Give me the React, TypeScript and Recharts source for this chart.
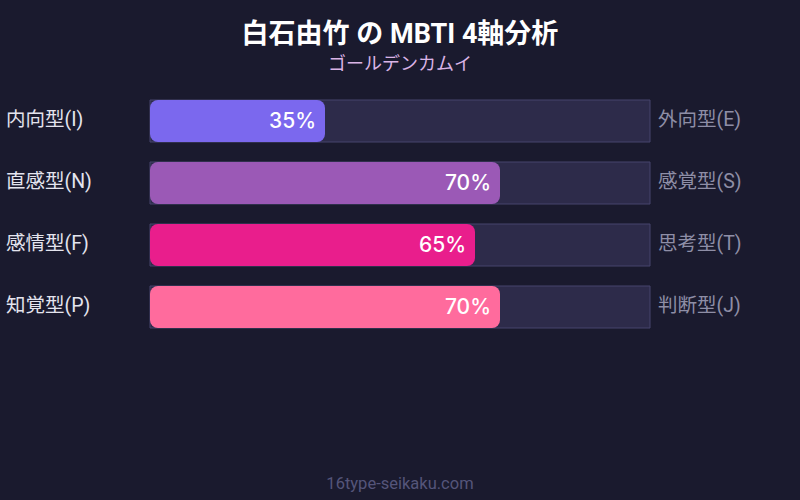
import React from "react";
import { BarChart, Bar, XAxis, YAxis, Cell, LabelList } from "recharts";

const leftLabels = ["内向型(I)", "直感型(N)", "感情型(F)", "知覚型(P)"];
const rightLabels = ["外向型(E)", "感覚型(S)", "思考型(T)", "判断型(J)"];
const values = [35, 70, 65, 70];
const colors = ["#7b68ee", "#9b59b6", "#e91e8c", "#ff6b9d"];

const data = leftLabels.map((l, i) => ({ left: l, right: rightLabels[i], value: values[i] }));

const FONT = "Roboto, 'Noto Sans CJK JP', sans-serif";
const NUM_FONT = "Inter, 'Noto Sans CJK JP', sans-serif";

const LeftTick = (props: any) => {
  const { y, payload } = props;
  return (
    <text x={6} y={y} dy={5} textAnchor="start" fill="#e4e4ee" fontSize={19.5} fontFamily={FONT}>
      {payload.value}
    </text>
  );
};

const RightTick = (props: any) => {
  const { y, payload } = props;
  return (
    <text x={658} y={y} dy={5} textAnchor="start" fill="#8e8ea6" fontSize={19.5} fontFamily={FONT}>
      {payload.value}
    </text>
  );
};

const ValueLabel = (props: any) => {
  const { x, y, width, height, value } = props;
  return (
    <text
      x={x + width - 9}
      y={y + height / 2}
      dy={7}
      textAnchor="end"
      fill="#ffffff"
      fontSize={21}
      fontWeight={500}
      fontFamily={NUM_FONT}
    >
      {value}%
    </text>
  );
};

export default function App() {
  return (
    <div
      style={{
        position: "absolute",
        left: 0,
        top: 0,
        width: 800,
        height: 500,
        background: "#1a1a2e",
        fontFamily: FONT,
        overflow: "hidden",
      }}
    >
      <div
        style={{
          position: "absolute",
          top: 17,
          width: 800,
          textAlign: "center",
          color: "#ffffff",
          fontSize: 27,
          fontWeight: 700,
          lineHeight: "34px",
        }}
      >
        白石由竹 の MBTI 4軸分析
      </div>
      <div
        style={{
          position: "absolute",
          top: 52,
          width: 800,
          textAlign: "center",
          color: "#dab4e6",
          fontSize: 18,
          lineHeight: "24px",
        }}
      >
        ゴールデンカムイ
      </div>
      <div style={{ position: "absolute", left: 0, top: 0 }}>
        <BarChart
          width={800}
          height={500}
          data={data}
          layout="vertical"
          margin={{ top: 90, right: 0, bottom: 162, left: 0 }}
          barSize={42}
        >
          <XAxis type="number" domain={[0, 100]} hide />
          <YAxis
            yAxisId="l"
            type="category"
            dataKey="left"
            orientation="left"
            width={150}
            axisLine={false}
            tickLine={false}
            tick={<LeftTick />}
          />
          <YAxis
            yAxisId="r"
            type="category"
            dataKey="right"
            orientation="right"
            width={150}
            axisLine={false}
            tickLine={false}
            tick={<RightTick />}
          />
          <Bar
            yAxisId="l"
            dataKey="value"
            radius={8}
            isAnimationActive={false}
            background={{ fill: "#2d2b4a", stroke: "#46446c", strokeWidth: 1 }}
          >
            {data.map((d, i) => (
              <Cell key={i} fill={colors[i]} />
            ))}
            <LabelList dataKey="value" content={<ValueLabel />} />
          </Bar>
        </BarChart>
      </div>
      <div
        style={{
          position: "absolute",
          top: 474,
          width: 800,
          textAlign: "center",
          color: "#55557a",
          fontSize: 16.5,
          lineHeight: "20px",
        }}
      >
        16type-seikaku.com
      </div>
    </div>
  );
}
